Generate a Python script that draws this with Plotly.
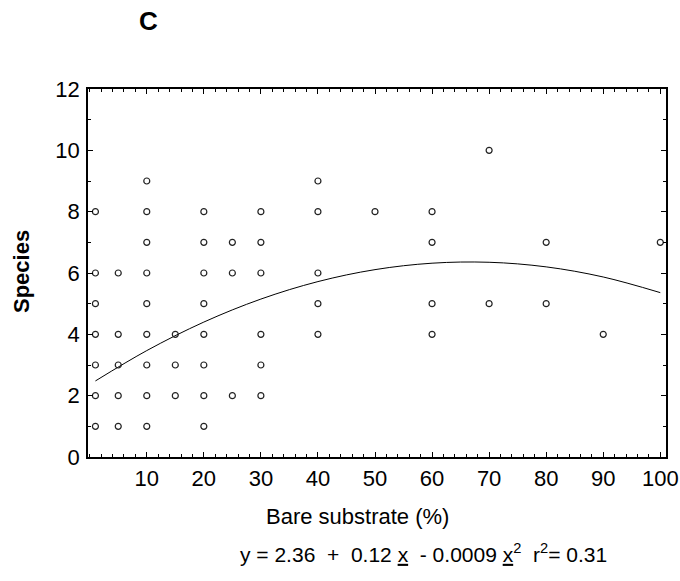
import plotly.graph_objects as go

# Observed points (Bare substrate %, number of species)
bare_x = [1, 1, 1, 1, 1, 1, 1,
          5, 5, 5, 5, 5,
          10, 10, 10, 10, 10, 10, 10, 10, 10,
          15, 15, 15,
          20, 20, 20, 20, 20, 20, 20, 20,
          25, 25, 25,
          30, 30, 30, 30, 30, 30,
          40, 40, 40, 40, 40,
          50,
          60, 60, 60, 60,
          70, 70,
          80, 80,
          90,
          100]
species_y = [1, 2, 3, 4, 5, 6, 8,
             1, 2, 3, 4, 6,
             1, 2, 3, 4, 5, 6, 7, 8, 9,
             2, 3, 4,
             1, 2, 3, 4, 5, 6, 7, 8,
             2, 6, 7,
             2, 3, 4, 6, 7, 8,
             4, 5, 6, 8, 9,
             8,
             4, 5, 7, 8,
             5, 10,
             5, 7,
             4,
             7]

# Fitted curve
fit_x = [1, 10, 20, 30, 40, 50, 60, 70, 80, 90, 100]
fit_y = [2.48, 3.47, 4.40, 5.15, 5.72, 6.11, 6.32, 6.35, 6.20, 5.87, 5.36]

y_ticks = [0, 2, 4, 6, 8, 10, 12]
x_ticks = [10, 20, 30, 40, 50, 60, 70, 80, 90, 100]

x_title = "Bare substrate (%)"
y_title = "Species"
panel = "C"
nb = "\u00a0"
equation = ("y = 2.36 " + nb + "+" + nb + nb + "0.12 <u>x</u>" + nb + nb + "-" + nb + "0.0009 <u>x</u><sup>2</sup>"
            + nb + nb + "r<sup>2</sup>= 0.31")

SANS = "Liberation Sans, Arial, sans-serif"

fig = go.Figure()
fig.add_trace(go.Scatter(x=fit_x, y=fit_y, mode="lines", line=dict(color="black", width=1, shape="spline"),
                         hoverinfo="skip", showlegend=False))
fig.add_trace(go.Scatter(x=bare_x, y=species_y, mode="markers",
                         marker=dict(symbol="circle-open", size=6, color="#222", line=dict(width=1.2, color="#222")),
                         showlegend=False))

fig.update_layout(
    width=680, height=581,
    margin=dict(l=88, r=14, t=89, b=124, autoexpand=False),
    paper_bgcolor="white", plot_bgcolor="white",
    font=dict(family=SANS, size=22, color="black"),
    xaxis=dict(range=[-0.3, 101], tickvals=x_ticks, ticks="inside", ticklen=5, tickwidth=1, tickcolor="black",
               showline=True, linecolor="black", linewidth=1.5, mirror="ticks", showgrid=False, zeroline=False,
               minor=dict(dtick=2, tick0=0, ticks="inside", ticklen=3, tickcolor="black", showgrid=False),
               automargin=False,
               ticklabelstandoff=1, ticklabeloverflow="allow", tickfont=dict(family=SANS, size=22)),
    yaxis=dict(range=[0, 12], tickvals=y_ticks, ticks="inside", ticklen=5, tickwidth=1, tickcolor="black",
               showline=True, linecolor="black", linewidth=1.5, mirror="ticks", showgrid=False, zeroline=False,
               minor=dict(dtick=1, tick0=0, ticks="inside", ticklen=3, tickcolor="black", showgrid=False),
               automargin=False,
               ticklabelstandoff=2, ticklabeloverflow="allow", tickfont=dict(family=SANS, size=22)),
    annotations=[
        dict(text=x_title, xref="paper", yref="paper", x=0.467, y=-0.163, xanchor="center", yanchor="middle",
             showarrow=False, font=dict(family=SANS, size=22)),
        dict(text=equation, xref="paper", yref="paper", x=0.580, y=-0.262, xanchor="center", yanchor="middle",
             showarrow=False, font=dict(family=SANS, size=21)),
        dict(text="<b>" + y_title + "</b>", xref="paper", yref="paper", x=-0.114, y=0.503, xanchor="center",
             yanchor="middle", textangle=-90, showarrow=False, font=dict(family=SANS, size=22)),
        dict(text="<b>" + panel + "</b>", xref="paper", yref="paper", x=0.1055, y=1.186, xanchor="center",
             yanchor="middle", showarrow=False, font=dict(family=SANS, size=26)),
    ],
)

fig.write_html("out.html")
